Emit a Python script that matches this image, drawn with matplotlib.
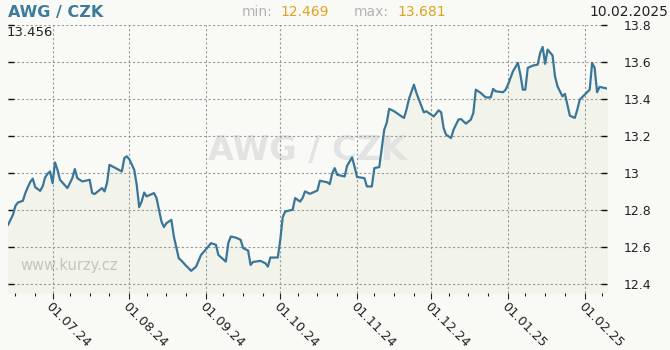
import pandas as pd
import matplotlib
matplotlib.use('Agg')
import matplotlib.pyplot as plt
import matplotlib.dates as mdates
from matplotlib.ticker import FuncFormatter, FixedLocator

# AWG/CZK daily rate
dates = [
    '2024-06-13', '2024-06-15', '2024-06-16', '2024-06-17', '2024-06-19', '2024-06-20',
    '2024-06-21', '2024-06-22', '2024-06-23', '2024-06-24', '2024-06-26', '2024-06-27',
    '2024-06-28', '2024-06-29', '2024-06-30', '2024-07-01', '2024-07-02', '2024-07-03',
    '2024-07-04', '2024-07-07', '2024-07-09', '2024-07-10', '2024-07-11', '2024-07-13',
    '2024-07-16', '2024-07-17', '2024-07-18', '2024-07-21', '2024-07-22', '2024-07-23',
    '2024-07-24', '2024-07-29', '2024-07-30', '2024-07-31', '2024-08-01', '2024-08-03',
    '2024-08-04', '2024-08-05', '2024-08-06', '2024-08-07', '2024-08-08', '2024-08-11',
    '2024-08-12', '2024-08-13', '2024-08-14', '2024-08-15', '2024-08-16', '2024-08-18',
    '2024-08-19', '2024-08-21', '2024-08-22', '2024-08-24', '2024-08-26', '2024-08-28',
    '2024-08-30', '2024-09-01', '2024-09-03', '2024-09-05', '2024-09-06', '2024-09-09',
    '2024-09-10', '2024-09-11', '2024-09-13', '2024-09-15', '2024-09-16', '2024-09-18',
    '2024-09-19', '2024-09-20', '2024-09-23', '2024-09-25', '2024-09-26', '2024-09-27',
    '2024-09-30', '2024-10-01', '2024-10-02', '2024-10-03', '2024-10-06', '2024-10-07',
    '2024-10-09', '2024-10-10', '2024-10-11', '2024-10-13', '2024-10-16', '2024-10-17',
    '2024-10-20', '2024-10-21', '2024-10-22', '2024-10-23', '2024-10-24', '2024-10-27',
    '2024-10-28', '2024-10-30', '2024-10-31', '2024-11-01', '2024-11-04', '2024-11-05',
    '2024-11-07', '2024-11-08', '2024-11-10', '2024-11-11', '2024-11-12', '2024-11-13',
    '2024-11-14', '2024-11-16', '2024-11-19', '2024-11-20', '2024-11-21', '2024-11-22',
    '2024-11-24', '2024-11-25', '2024-11-28', '2024-11-29', '2024-12-02', '2024-12-04',
    '2024-12-05', '2024-12-06', '2024-12-07', '2024-12-09', '2024-12-10', '2024-12-12',
    '2024-12-13', '2024-12-15', '2024-12-17', '2024-12-18', '2024-12-19', '2024-12-21',
    '2024-12-23', '2024-12-25', '2024-12-26', '2024-12-27', '2024-12-30', '2024-12-31',
    '2025-01-01', '2025-01-03', '2025-01-05', '2025-01-06', '2025-01-07', '2025-01-08',
    '2025-01-09', '2025-01-11', '2025-01-13', '2025-01-14', '2025-01-15', '2025-01-16',
    '2025-01-17', '2025-01-19', '2025-01-20', '2025-01-21', '2025-01-22', '2025-01-23',
    '2025-01-24', '2025-01-25', '2025-01-26', '2025-01-28', '2025-01-29', '2025-01-30',
    '2025-02-01', '2025-02-03', '2025-02-04', '2025-02-05', '2025-02-06', '2025-02-07',
    '2025-02-10',
]
rates = [
    12.718, 12.772, 12.821, 12.839, 12.848, 12.890,
    12.922, 12.950, 12.968, 12.922, 12.902, 12.926,
    12.975, 12.995, 13.007, 12.944, 13.056, 13.016,
    12.962, 12.917, 12.971, 13.020, 12.971, 12.953,
    12.962, 12.890, 12.885, 12.917, 12.899, 12.944,
    13.043, 13.007, 13.080, 13.089, 13.074, 13.016,
    12.935, 12.814, 12.844, 12.893, 12.872, 12.890,
    12.863, 12.800, 12.736, 12.706, 12.727, 12.745,
    12.655, 12.537, 12.525, 12.496, 12.469, 12.492,
    12.555, 12.586, 12.619, 12.610, 12.555, 12.519,
    12.619, 12.655, 12.649, 12.637, 12.592, 12.579,
    12.501, 12.517, 12.523, 12.510, 12.492, 12.541,
    12.541, 12.637, 12.760, 12.790, 12.800, 12.863,
    12.844, 12.863, 12.899, 12.886, 12.904, 12.957,
    12.948, 12.939, 12.998, 13.025, 12.989, 12.980,
    13.038, 13.083, 13.034, 12.977, 12.971, 12.926,
    12.926, 13.025, 13.031, 13.134, 13.233, 13.270,
    13.346, 13.333, 13.305, 13.297, 13.342, 13.400,
    13.477, 13.432, 13.327, 13.333, 13.305, 13.338,
    13.327, 13.242, 13.206, 13.188, 13.233, 13.288,
    13.291, 13.266, 13.288, 13.324, 13.450, 13.432,
    13.408, 13.408, 13.454, 13.441, 13.436, 13.449,
    13.477, 13.549, 13.595, 13.532, 13.450, 13.450,
    13.568, 13.580, 13.586, 13.649, 13.681, 13.590,
    13.667, 13.635, 13.522, 13.468, 13.441, 13.414,
    13.427, 13.369, 13.309, 13.297, 13.342, 13.396,
    13.423, 13.450, 13.595, 13.568, 13.436, 13.465,
    13.456,
]
y_ticks = [12.4, 12.6, 12.8, 13.0, 13.2, 13.4, 13.6, 13.8]
month_ticks = ['2024-07-01', '2024-08-01', '2024-09-01', '2024-10-01',
               '2024-11-01', '2024-12-01', '2025-01-01', '2025-02-01']

x = pd.to_datetime(dates)
bg = '#f9f9f5'
line_col = '#3a7698'
y_min = 12.349

fig = plt.figure(figsize=(6.7, 3.5), dpi=100, facecolor=bg)
ax = fig.add_axes([8 / 670, 57 / 350, 599 / 670, 268 / 350])
ax.set_facecolor(bg)

ax.fill_between(x, rates, y_min, color='#f2f3ea', lw=0, zorder=1)
ax.plot(x, rates, color=line_col, lw=1.6, zorder=3)

ax.set_xlim(x[0], x[-1])
ax.set_ylim(y_min, 13.8)

for s in ax.spines.values():
    s.set_visible(False)

# x axis: monthly labels, minor ticks between
major = pd.to_datetime(month_ticks)
ax.xaxis.set_major_locator(FixedLocator(mdates.date2num(major)))
ax.xaxis.set_major_formatter(mdates.DateFormatter('%d.%m.%y'))
minor = [d for m in pd.date_range('2024-06-01', '2025-02-01', freq='MS')
         for d in (m + pd.Timedelta(days=7), m + pd.Timedelta(days=15), m + pd.Timedelta(days=23))]
ax.xaxis.set_minor_locator(FixedLocator(mdates.date2num(pd.to_datetime(minor))))
ax.tick_params(axis='x', which='major', length=4, width=0.8, color='#222', pad=1,
               labelsize=9.3, labelcolor='#222')
ax.tick_params(axis='x', which='minor', length=2, width=0.8, color='#222')
for lab in ax.get_xticklabels():
    lab.set_rotation(-45)
    lab.set_ha('left')
    lab.set_va('top')
    lab.set_rotation_mode('anchor')

# y axis on the right
ax.set_yticks(y_ticks)
ax.yaxis.set_major_formatter(FuncFormatter(lambda v, p: f'{v:g}'))
ax.yaxis.tick_right()
ax.tick_params(axis='y', which='major', direction='in', length=4, width=1, color='#111',
               pad=12, labelsize=9, labelcolor='#222', left=True)

ax.grid(True, which='major', color='#9a9a9a', linestyle=(0, (2, 2)), lw=0.8, zorder=2)
ax.set_axisbelow(False)

# watermarks
ax.text(0.5, 0.53, 'AWG / CZK', transform=ax.transAxes, ha='center', va='center',
        fontsize=24, fontweight='bold', color='#e3e3e3', zorder=1.5)
ax.text(0.02, 0.104, 'www.kurzy.cz', transform=ax.transAxes, ha='left', va='center',
        fontsize=10.5, color='#c4c4c4', zorder=1.5)

# header
fig.text(8 / 670, 1 - 12 / 350, 'AWG / CZK', ha='left', va='center',
         fontsize=11.5, fontweight='bold', color='#3d7a9c')
fig.text(242 / 670, 1 - 12 / 350, 'min:', ha='left', va='center', fontsize=10, color='#b4b4b4')
fig.text(280 / 670, 1 - 12 / 350, '12.469', ha='left', va='center', fontsize=10, color='#e0a21f')
fig.text(354 / 670, 1 - 12 / 350, 'max:', ha='left', va='center', fontsize=10, color='#b4b4b4')
fig.text(397 / 670, 1 - 12 / 350, '13.681', ha='left', va='center', fontsize=10, color='#e0a21f')
fig.text(668 / 670, 1 - 12 / 350, '10.02.2025', ha='right', va='center', fontsize=10, color='#222')
fig.text(7 / 670, 1 - 33 / 350, '13.456', ha='left', va='center', fontsize=9.5, color='#222')

fig.savefig('out.png', dpi=100, facecolor=bg)
